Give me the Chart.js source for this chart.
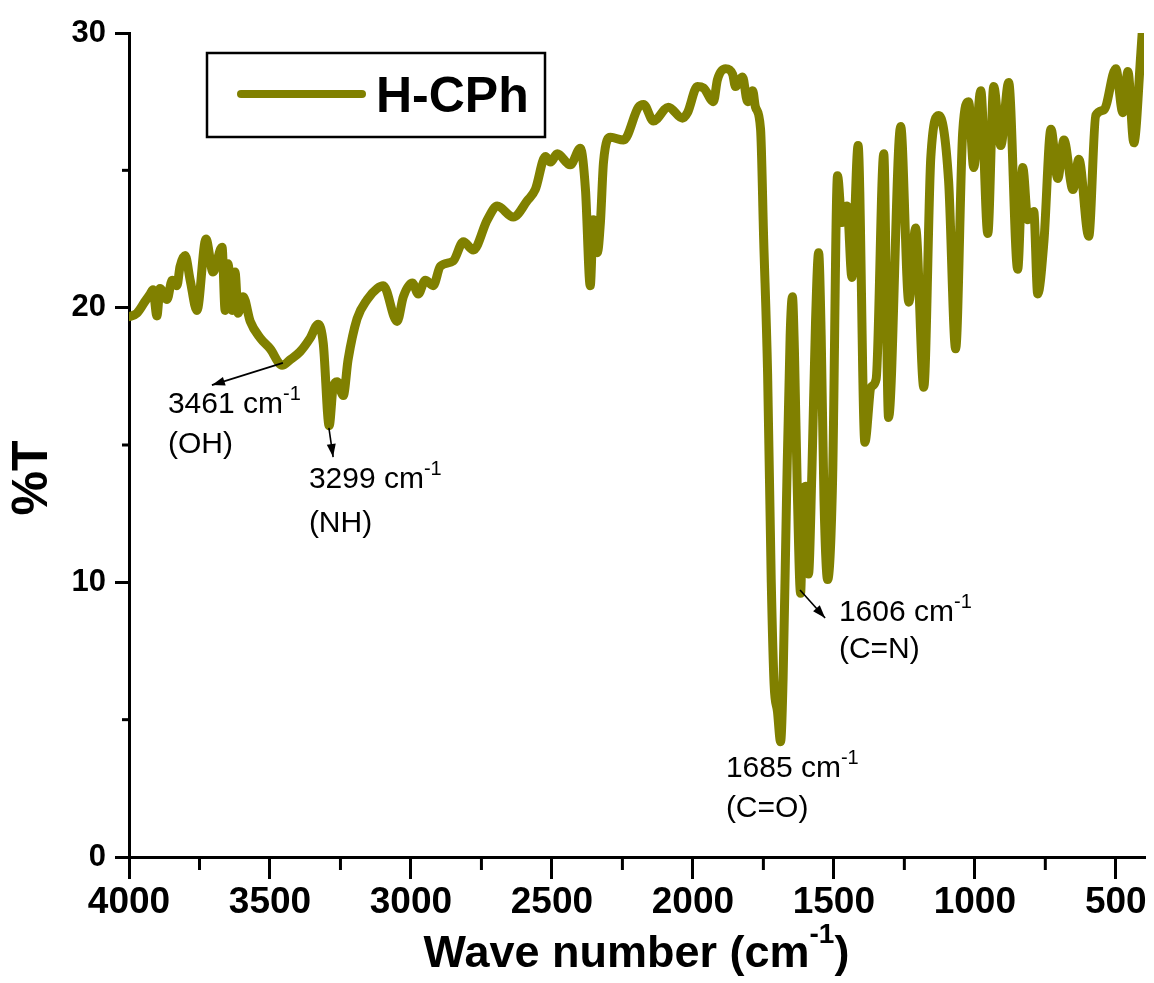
<!DOCTYPE html>
<html>
<head>
<meta charset="utf-8">
<script src="https://cdn.jsdelivr.net/npm/chart.js@4.4.1/dist/chart.umd.min.js"></script>
<style>
html,body{margin:0;padding:0;background:#fff;}
#wrap{width:1154px;height:983px;}
</style>
</head>
<body>
<div id="wrap"><canvas id="c" width="1154" height="983"></canvas></div>
<script>
// ---- data ----
const wavenumbers = [
 4000,3972,3945,3925,3915,3901,3890,3865,3847,3830,3819,3801,3783,3759,3727,3702,3670,3659,3649,3634,
 3624,3613,3595,3570,3535,3499,3457,3429,3393,3357,3329,3311,3290,3276,3262,3240,3223,3191,3155,3120,
 3098,3049,3027,2995,2974,2949,2921,2896,2850,2814,2779,2729,2694,2637,2587,2559,2523,2505,2481,2435,
 2399,2381,2364,2353,2339,2328,2317,2292,2246,2193,2175,2140,2087,2037,2019,1984,1962,1927,1913,1884,
 1859,1849,1824,1806,1788,1778,1760,1749,1735,1722,1712,1700,1689,1680,1668,1655,1647,1640,1630,1618,
 1610,1600,1590,1578,1565,1554,1545,1535,1522,1505,1487,1471,1453,1436,1414,1390,1368,1350,1323,1306,
 1263,1234,1210,1181,1156,1128,1093,1068,1043,1022,1004,979,954,933,908,880,848,830,812,791,
 777,755,730,706,684,652,631,596,571,542,500,475,457,436,411,400
];
const transmittance = [
 19.67,19.8,20.2,20.5,20.65,19.7,20.7,20.3,21.0,20.8,21.5,21.9,21.0,19.9,22.5,21.3,22.2,19.9,21.6,19.9,
 21.3,19.8,20.4,19.5,18.9,18.5,17.9,18.1,18.4,18.9,19.4,18.7,15.7,17.1,17.3,16.8,18.1,19.6,20.3,20.7,
 20.8,19.5,20.4,20.9,20.5,21.0,20.8,21.5,21.7,22.4,22.1,23.2,23.7,23.3,23.9,24.3,25.5,25.3,25.6,25.2,
 25.8,24.3,20.8,23.2,22.0,23.1,25.3,26.2,26.1,27.3,27.4,26.8,27.3,26.9,27.1,28.05,28.0,27.5,28.3,28.7,
 28.5,28.05,28.4,27.5,27.9,27.3,26.5,22.5,17.6,10.0,6.3,5.3,4.2,6.5,13.0,19.0,20.4,18.5,13.5,9.6,
 12.8,13.5,10.3,14.0,19.5,22.0,19.0,13.0,10.1,13.5,24.8,23.1,23.7,21.1,25.9,15.1,17.1,17.4,25.6,16.0,
 26.6,20.2,22.9,17.1,25.5,27.0,24.6,18.5,26.4,27.5,25.1,27.9,22.7,28.05,25.9,28.2,21.4,25.1,23.2,23.5,
 20.5,22.4,26.5,24.7,26.1,24.3,25.4,22.6,27.0,27.2,28.7,27.1,28.6,26.0,29.3,31.0
];
const seriesName = 'H-CPh';
const xTickLabels = [4000,3500,3000,2500,2000,1500,1000,500];
const xMinorTicks = [3750,3250,2750,2250,1750,1250,750];
const yTickLabels = [0,10,20,30];
const yMinorTicks = [5,15,25];
const peakWavenumbers = ['3461','3299','1606','1685'];
const peakGroups = ['(OH)','(NH)','(C=N)','(C=O)'];

// ---- annotation layout (data coordinates) ----
const annotations = [
  {text:0, x:3862, y1:16.16, y2:14.71, arrow:[3454,17.99,3706,17.18]},
  {text:1, x:3362, y1:13.43, y2:11.83, arrow:[3291,15.62,3276,14.56]},
  {text:2, x:1482, y1:8.59,  y2:7.25,  arrow:[1620,9.72,1531,8.70]},
  {text:3, x:1883, y1:2.91,  y2:1.46,  arrow:null}
];

const FONT = "'Liberation Sans', Arial, Helvetica, sans-serif";
const OLIVE = '#808000';

const points = wavenumbers.map((w,i)=>({x:w, y:transmittance[i]}));

function arrow(ctx, x1,y1,x2,y2){
  ctx.beginPath(); ctx.moveTo(x1,y1); ctx.lineTo(x2,y2); ctx.stroke();
  const a = Math.atan2(y2-y1,x2-x1), L=13, W=4.5;
  ctx.beginPath();
  ctx.moveTo(x2,y2);
  ctx.lineTo(x2 - L*Math.cos(a) + W*Math.sin(a), y2 - L*Math.sin(a) - W*Math.cos(a));
  ctx.lineTo(x2 - L*Math.cos(a) - W*Math.sin(a), y2 - L*Math.sin(a) + W*Math.cos(a));
  ctx.closePath(); ctx.fill();
}

const overlay = {
  id:'overlay',
  afterDraw(chart){
    const ctx = chart.ctx, xs = chart.scales.x, ys = chart.scales.y, ca = chart.chartArea;
    ctx.save();
    ctx.strokeStyle = '#000'; ctx.fillStyle = '#000'; ctx.lineWidth = 3;
    // minor ticks
    xMinorTicks.forEach(v=>{
      const px = xs.getPixelForValue(v);
      ctx.beginPath(); ctx.moveTo(px, ca.bottom); ctx.lineTo(px, ca.bottom+13); ctx.stroke();
    });
    yMinorTicks.forEach(v=>{
      const py = ys.getPixelForValue(v);
      ctx.beginPath(); ctx.moveTo(ca.left, py); ctx.lineTo(ca.left-7, py); ctx.stroke();
    });
    // x title with superscript
    const main1 = 'Wave number (cm', sup = '-1', main2 = ')';
    ctx.font = `bold 45px ${FONT}`;
    const w1 = ctx.measureText(main1).width, w3 = ctx.measureText(main2).width;
    ctx.font = `bold 28px ${FONT}`;
    const w2 = ctx.measureText(sup).width;
    let tx = (ca.left + ca.right)/2 - (w1+w2+w3)/2;
    const tb = 967;
    ctx.textAlign = 'left'; ctx.textBaseline = 'alphabetic';
    ctx.font = `bold 45px ${FONT}`; ctx.fillText(main1, tx, tb);
    ctx.font = `bold 28px ${FONT}`; ctx.fillText(sup, tx+w1, tb-24);
    ctx.font = `bold 45px ${FONT}`; ctx.fillText(main2, tx+w1+w2, tb);
    // y title
    ctx.save();
    ctx.translate(33, 478); ctx.rotate(-Math.PI/2);
    ctx.textAlign = 'center'; ctx.textBaseline = 'middle';
    ctx.font = `bold 50px ${FONT}`;
    ctx.fillText('%T', 0, 0);
    ctx.restore();
    // legend
    ctx.lineWidth = 2.5;
    ctx.strokeRect(207, 53, 338, 84);
    ctx.save();
    ctx.strokeStyle = chart.data.datasets[0].borderColor; ctx.lineWidth = 8; ctx.lineCap = 'round';
    ctx.beginPath(); ctx.moveTo(241, 94); ctx.lineTo(362, 94); ctx.stroke();
    ctx.restore();
    ctx.font = `bold 50px ${FONT}`; ctx.textAlign = 'left'; ctx.textBaseline = 'alphabetic';
    ctx.fillText(chart.data.datasets[0].label, 376, 112);
    // annotations
    ctx.lineWidth = 1.6;
    annotations.forEach(a=>{
      const px = xs.getPixelForValue(a.x);
      const line1 = peakWavenumbers[a.text] + ' cm';
      ctx.font = `30px ${FONT}`;
      ctx.fillText(line1, px, ys.getPixelForValue(a.y1));
      const lw = ctx.measureText(line1).width;
      ctx.font = `20px ${FONT}`;
      ctx.fillText('-1', px + lw, ys.getPixelForValue(a.y1) - 13);
      ctx.font = `30px ${FONT}`;
      ctx.fillText(peakGroups[a.text], px, ys.getPixelForValue(a.y2));
      if (a.arrow){
        arrow(ctx, xs.getPixelForValue(a.arrow[0]), ys.getPixelForValue(a.arrow[1]),
                   xs.getPixelForValue(a.arrow[2]), ys.getPixelForValue(a.arrow[3]));
      }
    });
    ctx.restore();
  }
};

new Chart(document.getElementById('c'), {
  type: 'line',
  data: {
    datasets: [{
      label: seriesName,
      data: points,
      borderColor: OLIVE,
      backgroundColor: OLIVE,
      borderWidth: 9,
      pointRadius: 0,
      fill: false,
      cubicInterpolationMode: 'monotone',
      borderJoinStyle: 'round',
      borderCapStyle: 'round'
    }]
  },
  options: {
    responsive: false,
    animation: false,
    parsing: true,
    layout: {padding: {top: 33, right: 10, left: 0, bottom: 0}},
    plugins: {legend: {display: false}, tooltip: {enabled: false}},
    scales: {
      x: {
        type: 'linear', reverse: true, min: 400, max: 4000,
        afterBuildTicks: s => { s.ticks = xTickLabels.map(v=>({value:v})); },
        afterFit: s => { s.height = 126; },
        grid: {display: true, drawOnChartArea: false, drawTicks: true, tickLength: 22, color: '#000', lineWidth: 3},
        border: {display: true, color: '#000', width: 3},
        ticks: {color: '#000', font: {family: FONT, size: 37, weight: 'bold'}, padding: 2, maxRotation: 0, autoSkip: false,
                callback: v => String(v)}
      },
      y: {
        type: 'linear', min: 0, max: 30,
        afterBuildTicks: s => { s.ticks = yTickLabels.map(v=>({value:v})); },
        afterFit: s => { s.width = 129; },
        grid: {display: true, drawOnChartArea: false, drawTicks: true, tickLength: 14, color: '#000', lineWidth: 3},
        border: {display: true, color: '#000', width: 3},
        ticks: {color: '#000', font: {family: FONT, size: 31, weight: 'bold'}, padding: 9, autoSkip: false,
                callback: v => String(v)}
      }
    }
  },
  plugins: [overlay]
});
</script>
</body>
</html>
